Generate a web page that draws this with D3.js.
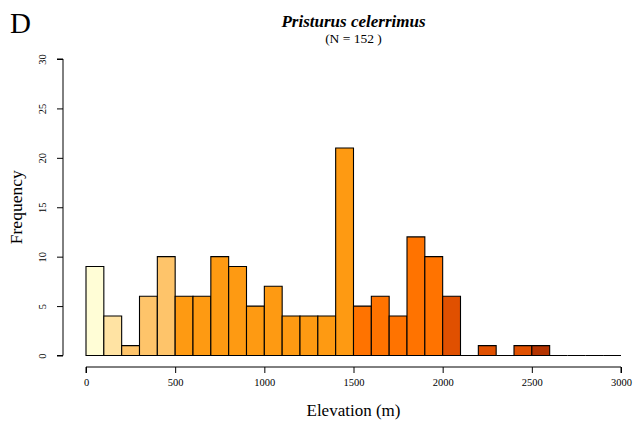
<!DOCTYPE html>
<html>
<head>
<meta charset="utf-8">
<script src="https://cdn.jsdelivr.net/npm/d3@7"></script>
<style>
  body { margin: 0; background: #fff; }
  svg text { font-family: "Liberation Serif", "DejaVu Serif", serif; fill: #000; }
</style>
</head>
<body>
<svg id="hist"></svg>
<script>
// bins of 100 m, 0..3000
const binStarts = d3.range(0, 3000, 100);
const counts = [9, 4, 1, 6, 10, 6, 6, 10, 9, 5, 7, 4, 4, 4, 21, 5, 6, 4, 12, 10, 6, 0, 1, 0, 1, 1, 0, 0, 0, 0];
const binColors = [
  "#fffdd6", "#ffe3a3", "#fec46a", "#fec46a", "#fec46a",
  "#fe9a12", "#fe9a12", "#fe9a12", "#fe9a12", "#fe9a12",
  "#fe9a12", "#fe9a12", "#fe9a12", "#fe9a12", "#fe9a12",
  "#ff7300", "#ff7300", "#ff7300", "#ff7300", "#ff7300",
  "#e05000", "#e05000", "#e05000", "#e05000", "#e05000",
  "#b33300", "#b33300", "#b33300", "#b33300", "#b33300"
];
const xTicks = [0, 500, 1000, 1500, 2000, 2500, 3000];
const yTicks = [0, 5, 10, 15, 20, 25, 30];
const speciesName = "Pristurus celerrimus";
const sampleSize = 152;

const W = 633, H = 421;
const svg = d3.select("#hist").attr("width", W).attr("height", H);

const x = d3.scaleLinear().domain([0, 3000]).range([86, 621]);
const y = d3.scaleLinear().domain([0, 30]).range([355.5, 59]);

const bins = binStarts.map((s, i) => ({ x0: s, x1: s + 100, n: counts[i], col: binColors[i] }));

// bars (zero bins collapse to a line on the baseline, like R's hist)
svg.append("g").selectAll("path")
  .data(bins)
  .enter().append("path")
  .attr("d", d => {
    const x0 = x(d.x0), x1 = x(d.x1), y0 = y(0), y1 = y(d.n);
    return `M${x0},${y0}L${x0},${y1}L${x1},${y1}L${x1},${y0}Z`;
  })
  .attr("fill", d => d.col)
  .attr("stroke", "#000")
  .attr("stroke-width", 1.1);

// x axis, pushed below the plot like R
const xAxis = d3.axisBottom(x).tickValues(xTicks).tickFormat(d3.format("d")).tickSize(6).tickPadding(6);
const gx = svg.append("g")
  .attr("transform", `translate(0,367)`)
  .call(xAxis)
  .attr("font-family", null);
gx.select(".domain").attr("d", `M${x(0)},6V0H${x(3000)}V6`).attr("stroke", "#000");
gx.selectAll("text").style("font-size", "10.5px");

// y axis
const yAxis = d3.axisLeft(y).tickValues(yTicks).tickSize(6).tickPadding(6);
const gy = svg.append("g")
  .attr("transform", `translate(63,0)`)
  .call(yAxis)
  .attr("font-family", null);
gy.select(".domain").attr("d", `M-6,${y(30)}H0V${y(0)}H-6`).attr("stroke", "#000");
gy.selectAll("text")
  .style("font-size", "10.5px")
  .attr("x", 0).attr("dy", 0)
  .attr("text-anchor", "middle")
  .attr("transform", "translate(-17,0) rotate(-90)");

// labels
svg.append("text")
  .attr("x", (x(0) + x(3000)) / 2).attr("y", 416)
  .attr("text-anchor", "middle")
  .style("font-size", "17px")
  .text("Elevation (m)");

svg.append("text")
  .attr("transform", `translate(22,${y(15)}) rotate(-90)`)
  .attr("text-anchor", "middle")
  .style("font-size", "17.5px")
  .text("Frequency");

svg.append("text")
  .attr("x", (x(0) + x(3000)) / 2).attr("y", 27)
  .attr("text-anchor", "middle")
  .style("font-size", "17px")
  .style("font-weight", "bold")
  .style("font-style", "italic")
  .text(speciesName);

svg.append("text")
  .attr("x", (x(0) + x(3000)) / 2).attr("y", 43)
  .attr("text-anchor", "middle")
  .style("font-size", "13.5px")
  .text(`(N = ${sampleSize} )`);

svg.append("text")
  .attr("x", 10).attr("y", 33)
  .style("font-size", "29px")
  .text("D");
</script>
</body>
</html>
